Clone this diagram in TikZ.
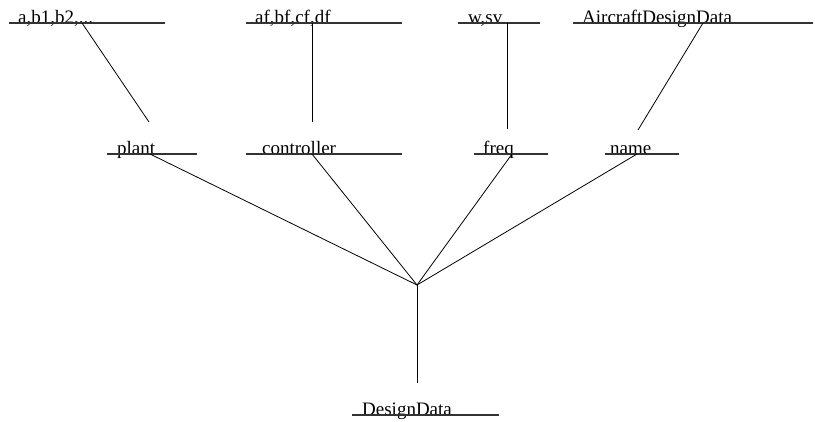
\documentclass[tikz,border=0pt]{standalone}
\usepackage{fontspec}
\setmainfont{Liberation Serif}
\begin{document}
\begin{tikzpicture}[x=1pt,y=-1pt,
  lbl/.style={anchor=base west, inner sep=0pt, font=\fontsize{19}{19}\selectfont},
  rule/.style={line width=1.1pt, black!80},
  conn/.style={line width=0.8pt, black}]
\useasboundingbox (0,0) rectangle (815,421);
% top row
\node[lbl] (abb) at (18,23) {a,b1,b2,...};
\draw[rule] (9,23) -- (165,23);
\node[lbl] (afbf) at (255,23) {af,bf,cf,df};
\draw[rule] (246,23) -- (402,23);
\node[lbl] (wsv) at (468,23) {w,sv};
\draw[rule] (458,23) -- (540,23);
\node[lbl] (acd) at (582,23) {AircraftDesignData};
\draw[rule] (573,23) -- (813,23);
% middle row
\node[lbl] (plant) at (117,154) {plant};
\draw[rule] (107,154) -- (197,154);
\node[lbl] (ctrl) at (262,154) {controller};
\draw[rule] (246,154) -- (402,154);
\node[lbl] (freq) at (483,154) {freq};
\draw[rule] (474,154) -- (548,154);
\node[lbl] (name) at (610,154) {name};
\draw[rule] (605,154) -- (679,154);
% bottom
\node[lbl] (dd) at (362,415) {DesignData};
\draw[rule] (352,415) -- (499,415);
% connector end points
\coordinate (abbC) at (82,23);
\coordinate (plantT) at (149,122);
\coordinate (afbfC) at (312,23);
\coordinate (ctrlT) at (312,122);
\coordinate (wsvC) at (507,23);
\coordinate (freqT) at (507,129);
\coordinate (acdC) at (703,23);
\coordinate (nameT) at (638,130);
\coordinate (plantB) at (150,154);
\coordinate (ctrlB) at (312,154);
\coordinate (freqB) at (512,154);
\coordinate (nameB) at (637,154);
\coordinate (hub) at (417,285);
\coordinate (ddT) at (417,383);
% connectors
\draw[conn] (abbC) -- (plantT);
\draw[conn] (afbfC) -- (ctrlT);
\draw[conn] (wsvC) -- (freqT);
\draw[conn] (acdC) -- (nameT);
\draw[conn] (plantB) -- (hub);
\draw[conn] (ctrlB) -- (hub);
\draw[conn] (freqB) -- (hub);
\draw[conn] (nameB) -- (hub);
\draw[conn] (hub) -- (ddT);
\end{tikzpicture}
\end{document}
